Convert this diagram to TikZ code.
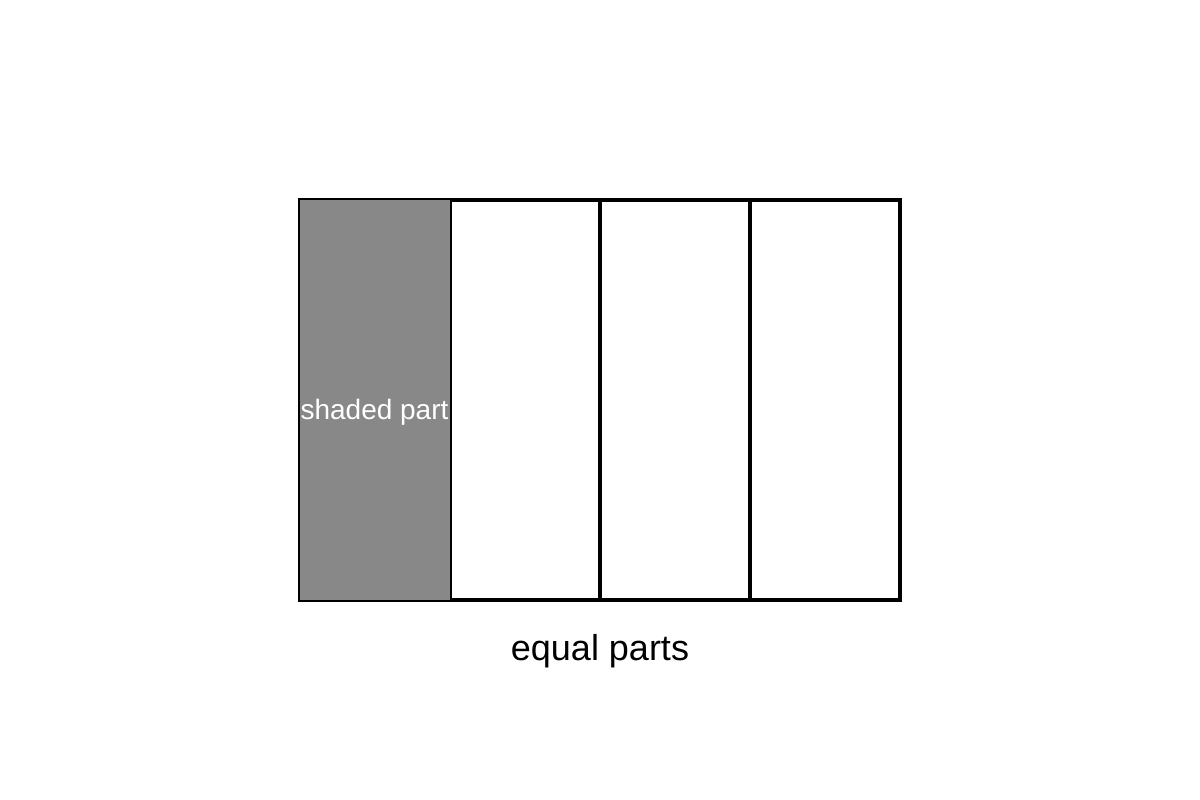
\documentclass[tikz,border=0pt]{standalone}
\usepackage{fontspec}
\setmainfont{Liberation Sans}
\usepackage{xcolor}
\definecolor{shadegray}{RGB}{136,136,136}

\begin{document}
\begin{tikzpicture}[x=0.75pt,y=0.75pt,yscale=-1,xscale=1]
\path[use as bounding box] (0,0) rectangle (1200,800); %set diagram size 1200 x 800

%Rectangles: plain parts
\foreach \i in {0,1,2} {
\draw [line width=2.8pt]  ({450+150*\i},200) -- ({600+150*\i},200) -- ({600+150*\i},600) -- ({450+150*\i},600) -- cycle ;
}
%Rectangle: shaded part
\draw [fill=shadegray, line width=1.5pt]  (299,199) -- (451,199) -- (451,601) -- (299,601) -- cycle ;

% Text Node
\node (shadedlbl) at (374.5,412) [inner sep=0pt, text=white, font=\fontsize{21pt}{25pt}\selectfont] {shaded part};
% Text Node
\node (equallbl) at (600,651) [inner sep=0pt, font=\fontsize{27pt}{32pt}\selectfont] {equal parts};

\end{tikzpicture}
\end{document}
